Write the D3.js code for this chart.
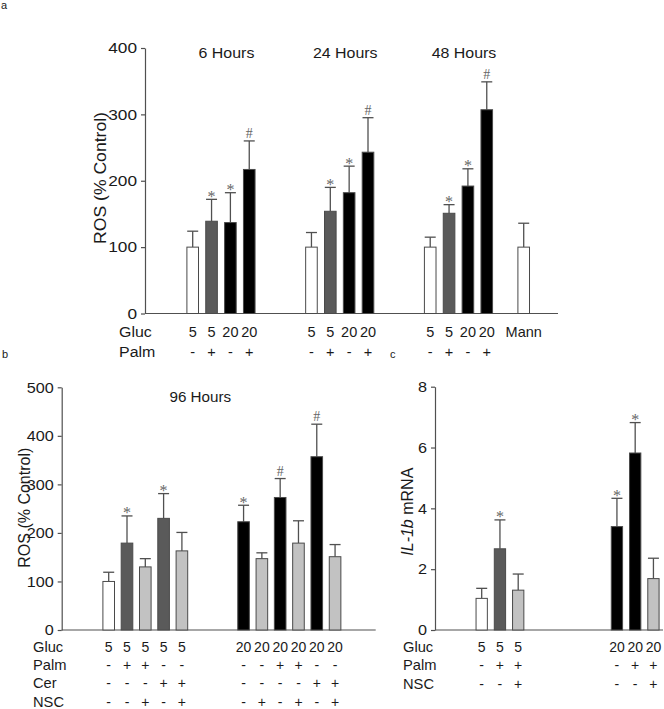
<!DOCTYPE html>
<html><head><meta charset="utf-8">
<script src="https://cdn.jsdelivr.net/npm/d3@7"></script>
<style>body{margin:0;background:#fff}</style>
</head><body><svg id="c" width="664" height="709"></svg>
<script>
// ---------- Panel a data ----------
const aTitles = ["6 Hours", "24 Hours", "48 Hours", ""];
const aGroup  = [0,0,0,0, 1,1,1,1, 2,2,2,2, 3];
const aGluc   = ["5","5","20","20", "5","5","20","20", "5","5","20","20", "Mann"];
const aPalm   = ["-","+","-","+", "-","+","-","+", "-","+","-","+", ""];
const aValues = [100,139,137,217, 100,154,182,243, 100,151,192,307, 100];
const aErrors = [24,33,45,43, 22,36,40,52, 15,13,26,42, 36];
const aMarks  = ["","*","*","#", "","*","*","#", "","*","*","#", ""];
const aFills  = ["white","dark","black","black", "white","dark","black","black", "white","dark","black","black", "white"];
const aTicks  = [0,100,200,300,400];

// ---------- Panel b data ----------
const bTitles = ["96 Hours", ""];
const bGroup  = [0,0,0,0,0, 1,1,1,1,1,1];
const bGluc   = ["5","5","5","5","5", "20","20","20","20","20","20"];
const bPalm   = ["-","+","+","-","-", "-","-","+","+","-","-"];
const bCer    = ["-","-","-","+","+", "-","-","-","-","+","+"];
const bNSC    = ["-","-","+","-","+", "-","+","-","+","-","+"];
const bValues = [100,179,130,230,163, 223,147,273,179,357,151];
const bErrors = [19,56,17,51,38, 34,12,39,46,67,25];
const bMarks  = ["","*","","*","", "*","","#","","#",""];
const bFills  = ["white","dark","light","dark","light", "black","light","black","light","black","light"];
const bTicks  = [0,100,200,300,400,500];

// ---------- Panel c data ----------
const cGroup  = [0,0,0, 1,1,1];
const cGluc   = ["5","5","5", "20","20","20"];
const cPalm   = ["-","+","+", "-","+","+"];
const cNSC    = ["-","-","+", "-","-","+"];
const cValues = [1.04,2.67,1.31, 3.40,5.82,1.69];
const cErrors = [0.33,0.95,0.53, 0.93,1.00,0.67];
const cMarks  = ["","*","", "*","*",""];
const cFills  = ["white","dark","light", "black","black","light"];
const cTicks  = [0,2,4,6,8];

const colors = {white:"#ffffff", dark:"#5a5a5a", light:"#c2c2c2", black:"#000000"};
const AX = "#505050";
const FONT = "'Liberation Sans', Arial, sans-serif";
const SERIF = "'Liberation Serif', 'Times New Roman', serif";
const svg = d3.select("#c");

function txt(g, x, y, s, o = {}) {
  return g.append("text")
    .attr("transform", `translate(${x},${y})${o.rot ? " rotate(" + o.rot + ")" : ""} scale(${o.sx || 1},1)`)
    .attr("text-anchor", o.anchor || "middle")
    .attr("font-size", o.fs || 14)
    .attr("font-family", o.ff || FONT)
    .attr("fill", o.fill || "#1a1a1a")
    .text(s);
}

function slots(groups, gapFn) {
  const out = []; let s = 0;
  groups.forEach((g, i) => {
    if (i > 0) { s += 1; if (g !== groups[i - 1]) s += gapFn(g); }
    out.push(s);
  });
  return out;
}

function panel(cfg) {
  const g = svg.append("g");
  const y = d3.scaleLinear().domain(cfg.domain).range([cfg.y0, cfg.y1]);
  const sl = slots(cfg.group, cfg.gap);
  const x = d3.scaleLinear().domain([0, 1]).range([cfg.x0, cfg.x0 + cfg.step]);
  const bw = cfg.bw;

  const yAxis = d3.axisLeft(y).tickValues(cfg.ticks).tickSize(4).tickSizeOuter(0).tickPadding(4);
  const ya = g.append("g").attr("transform", `translate(${cfg.ax},0)`).call(yAxis);
  ya.select(".domain").attr("stroke", AX).attr("stroke-width", 1.2);
  ya.selectAll(".tick line").attr("stroke", AX).attr("stroke-width", 1.2);
  ya.selectAll(".tick text").attr("font-size", cfg.tfs).attr("font-family", FONT).attr("fill", "#1a1a1a")
    .attr("transform", `scale(${cfg.tsx},1)`).attr("x", -8 / cfg.tsx);
  g.append("line").attr("x1", cfg.ax).attr("x2", cfg.axEnd).attr("y1", y(0)).attr("y2", y(0))
    .attr("stroke", AX).attr("stroke-width", 1.2);

  const vals = cfg.values;
  vals.forEach((v, i) => {
    const cx = x(sl[i]);
    const top = y(v + cfg.errors[i]);
    g.append("line").attr("x1", cx).attr("x2", cx).attr("y1", y(v)).attr("y2", top)
      .attr("stroke", AX).attr("stroke-width", 1.3);
    g.append("line").attr("x1", cx - 5.5).attr("x2", cx + 5.5).attr("y1", top).attr("y2", top)
      .attr("stroke", AX).attr("stroke-width", 1.3);
    const m = cfg.marks[i];
    if (m === "*") txt(g, cx, top + 2.5, "*", {fs: 16, ff: SERIF, fill: "#666"});
    if (m === "#") txt(g, cx, top - 3, "#", {fs: 14, ff: SERIF, fill: "#666"});
  });
  g.selectAll("rect.bar").data(vals).enter().append("rect")
    .attr("x", (d, i) => x(sl[i]) - bw / 2).attr("width", bw)
    .attr("y", d => y(d)).attr("height", d => y(0) - y(d))
    .attr("fill", (d, i) => colors[cfg.fills[i]])
    .attr("stroke", "#4a4a4a").attr("stroke-width", 1);

  if (cfg.titles) {
    cfg.titles.forEach((t, gi) => {
      if (!t) return;
      const idx = cfg.group.map((gg, i) => gg === gi ? i : -1).filter(i => i >= 0);
      const cx = (x(sl[idx[0]]) + x(sl[idx[idx.length - 1]])) / 2;
      txt(g, cx + (cfg.titleDx || 0), cfg.titleY, t, {fs: cfg.titleFs, sx: cfg.tsx2});
    });
  }
  cfg.rows.forEach((r, ri) => {
    const yy = cfg.rowY[ri];
    txt(g, cfg.rowLabelX, yy, r.name, {anchor: "start", fs: cfg.rfs, sx: cfg.tsx2});
    r.vals.forEach((s, i) => { if (s) txt(g, x(sl[i]), yy, s, {fs: cfg.rfs, sx: 1}); });
  });
  return {g, y, x};
}

// Panel a
panel({
  domain: [0, 400], y0: 313.5, y1: 48, ticks: aTicks, ax: 145, axEnd: 558,
  group: aGroup, gap: g => aTitles[g] ? 2.3 : 0.96, x0: 192.7, step: 18.85, bw: 11.6,
  values: aValues, errors: aErrors, marks: aMarks, fills: aFills,
  tfs: 15, tsx: 1.15, tsx2: 1.1, titles: aTitles, titleY: 58, titleFs: 14.5, titleDx: 5.5,
  rows: [{name: "Gluc", vals: aGluc}, {name: "Palm", vals: aPalm}], rowY: [337, 356.5], rowLabelX: 119, rfs: 14.5
});
txt(svg, 100.5, 178, "ROS (% Control)", {rot: -90, fs: 16, sx: 1.1}).attr("dy", "0.35em");
txt(svg, 1, 9, "a", {anchor: "start", fs: 11});

// Panel b
panel({
  domain: [0, 500], y0: 630, y1: 387.3, ticks: bTicks, ax: 61.7, axEnd: 375.7,
  group: bGroup, gap: g => 2.37, x0: 108.7, step: 18.3, bw: 11.6,
  values: bValues, errors: bErrors, marks: bMarks, fills: bFills,
  tfs: 15, tsx: 1.08, tsx2: 1.05, titles: bTitles, titleY: 402.3, titleFs: 14.5, titleDx: 55,
  rows: [{name: "Gluc", vals: bGluc}, {name: "Palm", vals: bPalm}, {name: "Cer", vals: bCer}, {name: "NSC", vals: bNSC}],
  rowY: [651.7, 670, 688.3, 706.7], rowLabelX: 33, rfs: 14
});
txt(svg, 24.5, 507.7, "ROS (% Control)", {rot: -90, fs: 16}).attr("dy", "0.35em");
txt(svg, 2, 358, "b", {anchor: "start", fs: 11});

// Panel c
panel({
  domain: [0, 8], y0: 630, y1: 386.7, ticks: cTicks, ax: 435, axEnd: 663,
  group: cGroup, gap: g => 4.41, x0: 481.7, step: 18.25, bw: 11.3,
  values: cValues, errors: cErrors, marks: cMarks, fills: cFills,
  tfs: 15, tsx: 1.08, tsx2: 1.05, titles: null,
  rows: [{name: "Gluc", vals: cGluc}, {name: "Palm", vals: cPalm}, {name: "NSC", vals: cNSC}],
  rowY: [652, 670, 689], rowLabelX: 403, rfs: 14
});
const yl = txt(svg, 407, 511.7, "", {rot: -90, fs: 16}).attr("dy", "0.35em");
yl.append("tspan").attr("font-style", "italic").text("IL-1b");
yl.append("tspan").text(" mRNA");
txt(svg, 390, 358, "c", {anchor: "start", fs: 11});
</script>
</body></html>
